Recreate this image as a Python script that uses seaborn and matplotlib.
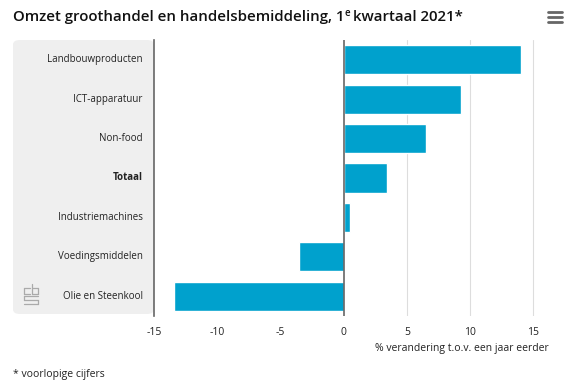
import seaborn as sns
import matplotlib.pyplot as plt
import matplotlib.patches as mpatches
import pandas as pd

categories = ['Landbouwproducten', 'ICT-apparatuur', 'Non-food', 'Totaal',
              'Industriemachines', 'Voedingsmiddelen', 'Olie en Steenkool']
values = [14.0, 9.3, 6.5, 3.4, 0.5, -3.5, -13.4]
xticks = [-15, -10, -5, 0, 5, 10, 15]

df = pd.DataFrame({'categorie': categories, 'verandering': values})

W, H = 577, 390
sns.set_theme(style='white')
plt.rcParams['font.family'] = ['Open Sans', 'DejaVu Sans']

fig = plt.figure(figsize=(W / 100, H / 100), dpi=100)
ax = fig.add_axes([154 / W, 1 - 316 / H, (565 - 154) / W, (316 - 40) / H])

# gray label panel left of the axes
panel = mpatches.FancyBboxPatch((13 / W, 1 - 314 / H), (154 - 13) / W, (314 - 40) / H,
                                boxstyle='round,pad=0,rounding_size=0.012',
                                transform=fig.transFigure, facecolor='#efefef',
                                edgecolor='none', zorder=-1)
fig.patches.append(panel)

sns.barplot(data=df, x='verandering', y='categorie', orient='h', color='#00a1cd',
            saturation=1, width=0.74, ax=ax, zorder=3)

ax.set_xlim(-15, 17.5)
ax.set_ylim(6.5, -0.5)
ax.set_xticks(xticks)
ax.set_xticklabels([str(t) for t in xticks], fontsize=7.5, color='#222222')
ax.tick_params(axis='x', length=0, pad=8)
ax.set_yticks([])
ax.set_ylabel('')
ax.set_xlabel('')
ax.patch.set_alpha(0)
for t in [5, 10, 15]:
    ax.axvline(t, color='#dddddd', lw=0.8, zorder=1)
ax.axvline(0, color='#666666', lw=1.2, zorder=4)
for s in ['top', 'right', 'bottom']:
    ax.spines[s].set_visible(False)
ax.spines['left'].set_color('#666666')
ax.spines['left'].set_linewidth(1.2)

# category labels inside the gray panel
for i, c in enumerate(categories):
    ax.text(-15.9, i, c, ha='right', va='center', fontsize=7, clip_on=False,
            fontweight='bold' if c == 'Totaal' else 'normal', color='#222222')

fig.text(549 / W, 1 - 348 / H, '% verandering t.o.v. een jaar eerder', ha='right',
         va='center', fontsize=7.5, color='#222222')
fig.text(13 / W, 1 - 375 / H, '* voorlopige cijfers', ha='left', va='center',
         fontsize=7.5, color='#222222')

# title with superscript e
fig.canvas.draw()
r = fig.canvas.get_renderer()
ty = 1 - 17 / H
t1 = fig.text(13 / W, ty, 'Omzet groothandel en handelsbemiddeling, 1', ha='left',
              va='center', fontsize=10.8, fontweight='semibold', color='#111111')
bb = t1.get_window_extent(r)
t2 = fig.text(bb.x1 / W, ty + 4 / H, 'e', ha='left', va='center', fontsize=7,
              fontweight='semibold', color='#111111')
bb2 = t2.get_window_extent(r)
fig.text(bb2.x1 / W + 3 / W, ty, 'kwartaal 2021*', ha='left', va='center',
         fontsize=10.8, fontweight='semibold', color='#111111')

# hamburger menu icon
for yy in [12, 17, 22]:
    fig.add_artist(plt.Line2D([548 / W, 562 / W], [1 - yy / H] * 2, color='#666666',
                              lw=2.0, transform=fig.transFigure))

# simple cbs logo
logo = '#aaaaaa'
def seg(x0, y0, x1, y1):
    fig.add_artist(plt.Line2D([x0 / W, x1 / W], [1 - y0 / H, 1 - y1 / H], color=logo,
                              lw=0.9, transform=fig.transFigure))
seg(24, 288, 30, 288); seg(24, 288, 24, 294); seg(24, 294, 30, 294)
seg(32, 284, 32, 294); seg(32, 294, 38, 294); seg(38, 294, 38, 288); seg(38, 288, 32, 288)
seg(24, 296, 38, 296); seg(24, 296, 24, 300); seg(24, 300, 38, 300)
seg(38, 300, 38, 304); seg(38, 304, 24, 304)

fig.savefig('out.png', dpi=100)
